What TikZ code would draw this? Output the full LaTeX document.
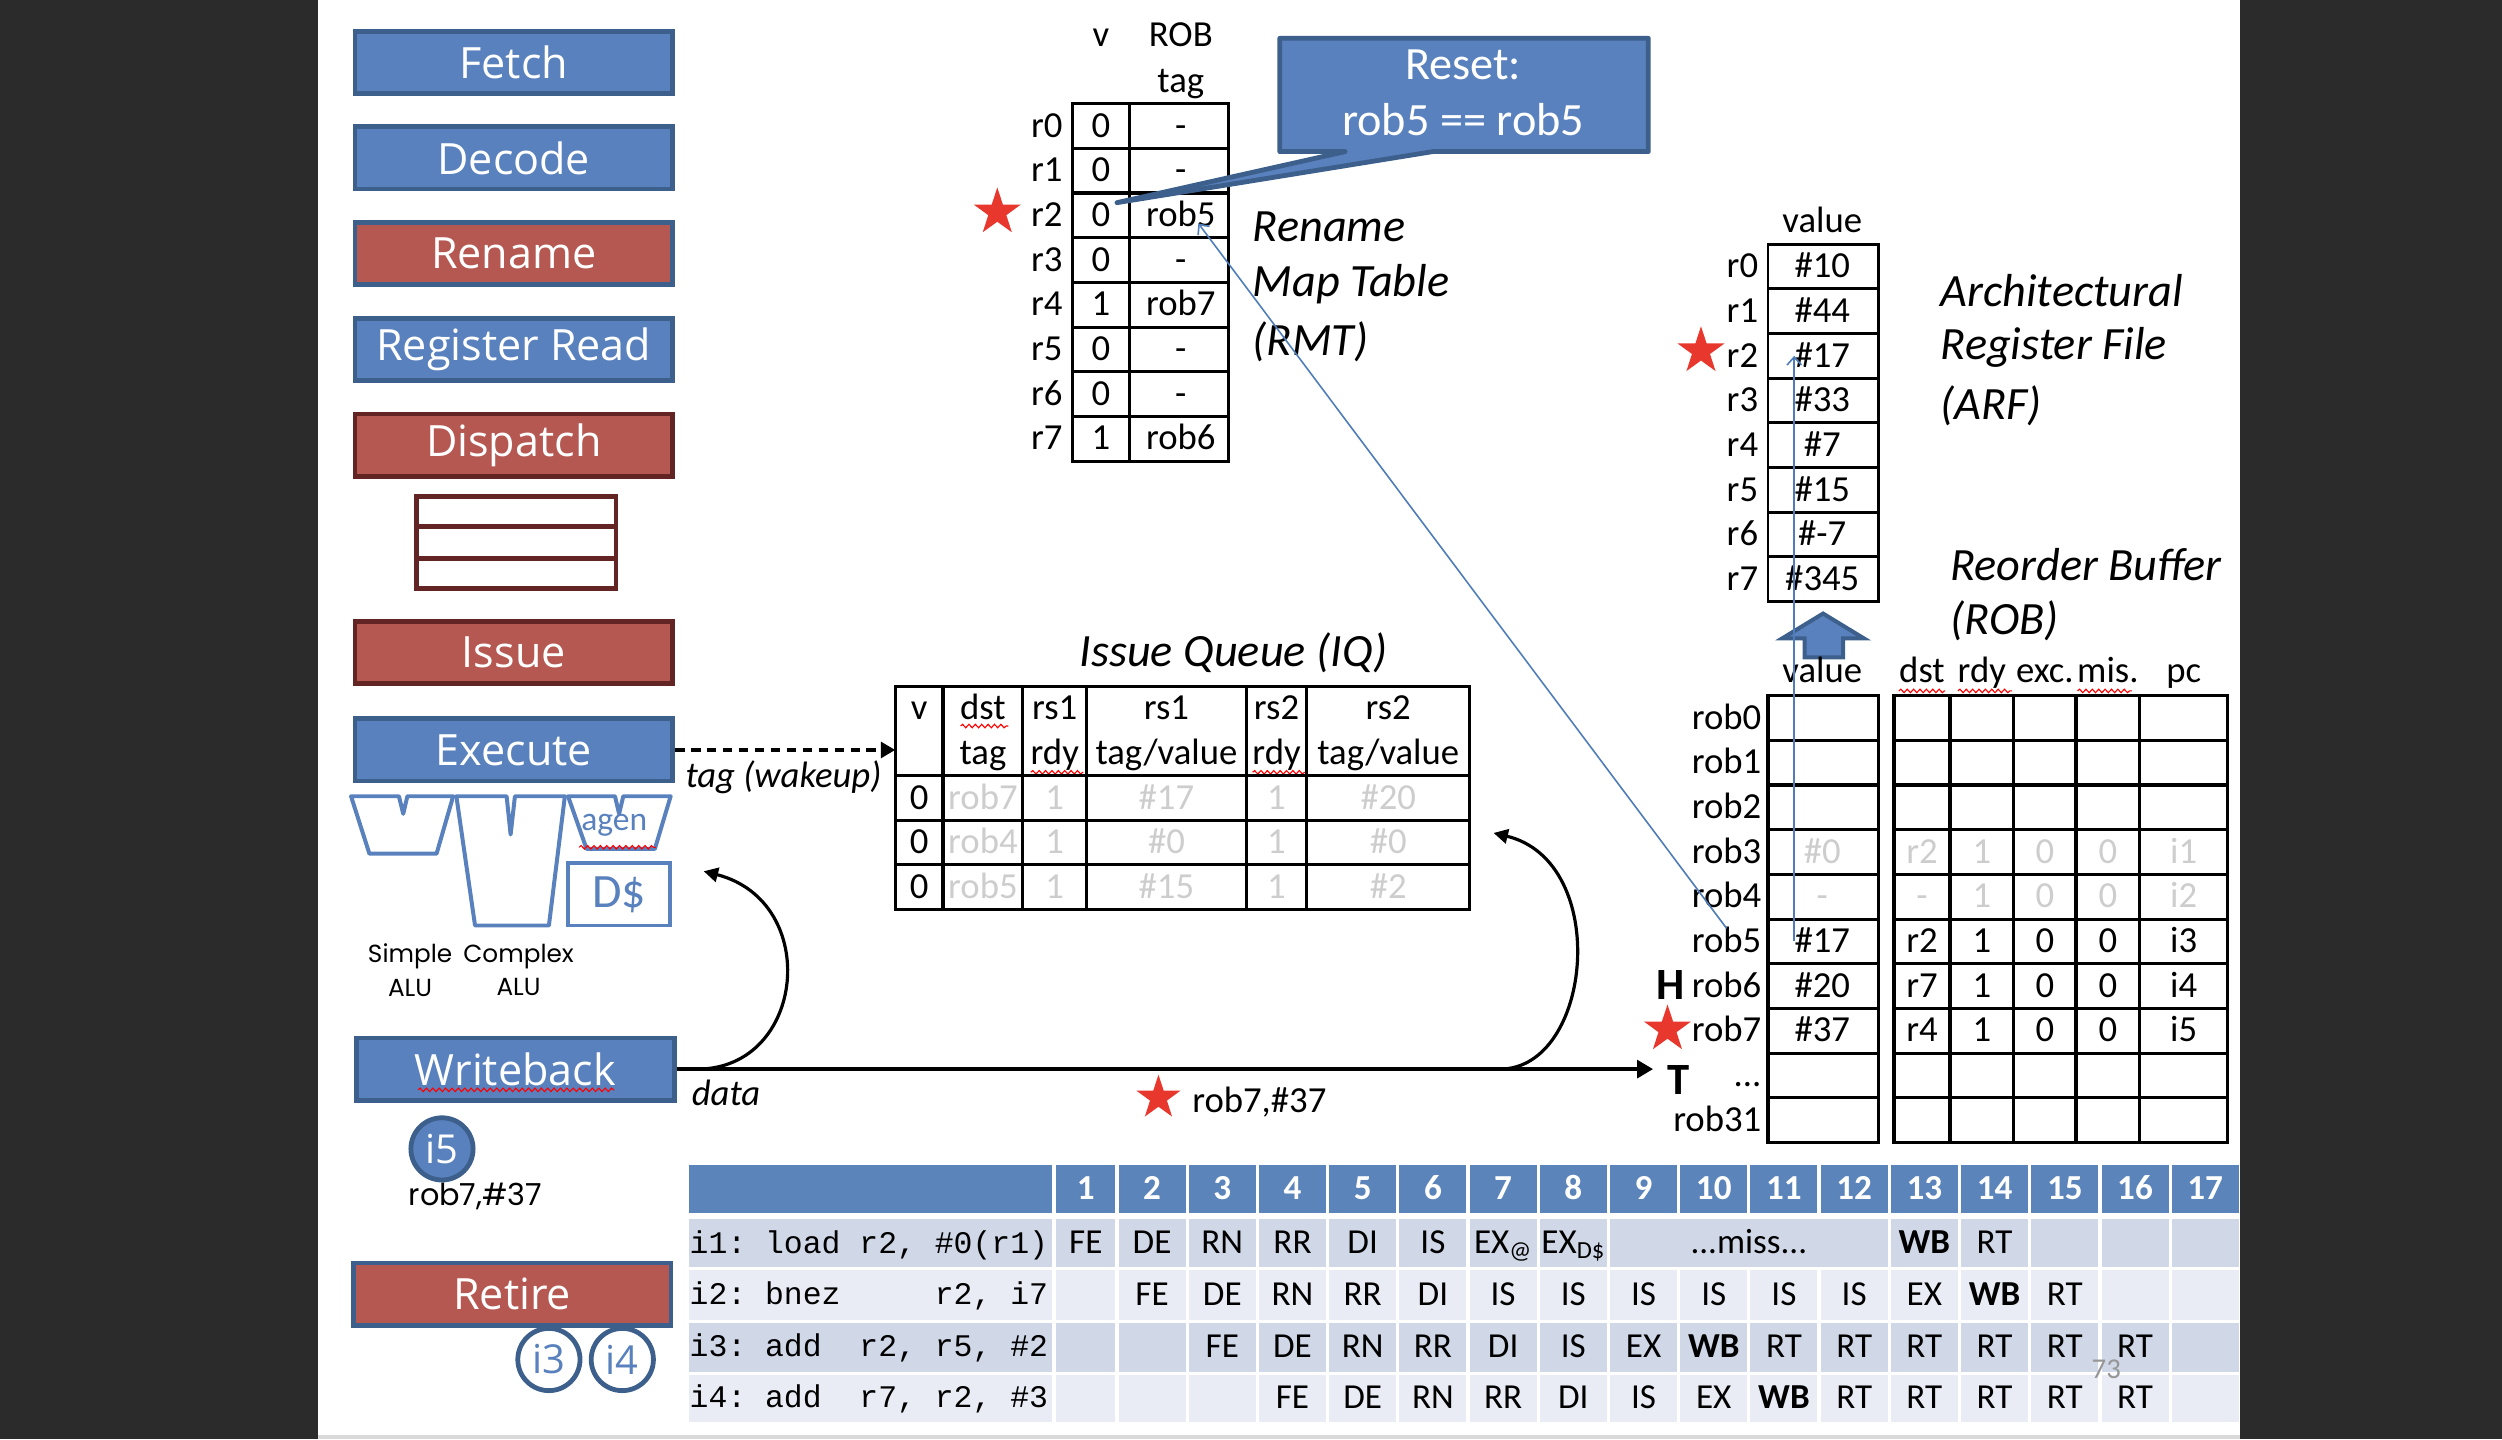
\documentclass[tikz,border=0pt]{standalone}
\usepackage{fontspec}
\setmainfont{Carlito}
\newfontfamily\stagefont{Open Sans}
\newfontfamily\gothfont{Poppins}
\newfontfamily\codefont{Liberation Mono}
\usetikzlibrary{positioning,calc,shapes.geometric,arrows.meta,decorations.pathmorphing}
\definecolor{stageblue}{RGB}{89,129,189}
\definecolor{stageedge}{RGB}{60,95,140}
\definecolor{stagered}{RGB}{181,88,82}
\definecolor{redegde}{RGB}{99,37,35}
\definecolor{hdrblue}{RGB}{91,132,187}
\definecolor{rowdark}{RGB}{208,216,232}
\definecolor{rowlight}{RGB}{233,236,244}
\definecolor{starred}{RGB}{232,55,44}
\definecolor{fadegray}{RGB}{205,205,205}
\definecolor{pagegray}{RGB}{150,150,150}
\definecolor{slidedark}{RGB}{43,43,43}
\definecolor{slidegray}{RGB}{217,217,217}
\definecolor{wirebl}{RGB}{79,125,185}
\newcommand{\fsz}[1]{\fontsize{#1}{#1}\selectfont}

\begin{document}
\begin{tikzpicture}[
  x=1pt, y=-1pt,
  stagebox/.style={draw=stageedge, line width=3pt, fill=stageblue,
    minimum width=199pt, minimum height=39pt, inner sep=0pt,
    text=white, font=\stagefont\fsz{27}},
  redstage/.style={stagebox, fill=stagered},
  darkstage/.style={stagebox, fill=stagered, draw=redegde},
  cell/.style={inner sep=0pt, font=\fsz{23}, text height=15pt, text depth=1pt},
  ghost/.style={cell, text=fadegray},
  rlabel/.style={cell, anchor=east},
  title/.style={inner sep=0pt, anchor=west, font=\itshape\fsz{29}},
  tblline/.style={draw=black, line width=2pt},
  redstar/.style={star, star points=5, star point ratio=2.6, fill=starred,
    inner sep=0pt, minimum size=31pt},
  wavy/.style={draw=red, line width=0.7pt, decorate,
    decoration={snake, amplitude=1.1pt, segment length=4pt}},
  wire/.style={draw=wirebl, line width=1pt, -{Straight Barb[length=5pt,width=9pt]}},
  alu/.style={draw=stageblue, line width=2.5pt, line join=round},
  tcell/.style={inner sep=0pt, font=\fsz{22}, text height=14pt, text depth=1pt},
  chip/.style={circle, draw=stageedge, line width=3pt, minimum size=39pt,
    inner sep=0pt, font=\stagefont\fsz{25}}
]
\useasboundingbox (0,0) rectangle (1568,902);
\fill[slidedark] (0,0) rectangle (199,902);
\fill[slidedark] (1404,0) rectangle (1568,902);
\fill[slidegray] (199,899) rectangle (1404,902);

\node[stagebox] (fetch) at (322,39) {Fetch};
\node[stagebox, below=18pt of fetch] (decode) {Decode};
\node[redstage, below=18pt of decode] (rename) {Rename};
\node[stagebox, below=18pt of rename] (regread) {Register Read};
\node[darkstage, below=18pt of regread] (dispatch) {Dispatch};
\node[darkstage, below=88pt of dispatch] (issue) {Issue};
\node[stagebox, below=19pt of issue] (execute) {Execute};
\node[stagebox] (writeback) at (323,670) {Writeback};
\node[redstage] (retire) at (321,811) {Retire};

\draw[draw=redegde, line width=3pt] (261,311) rectangle (386,369);
\draw[draw=redegde, line width=3pt] (261,330) -- (386,330) (261,350) -- (386,350);

\draw[alu] (220,499) -- (250,499) -- (252.7,510) -- (255.3,499) -- (284,499)
  -- (273.6,535) -- (231.5,535) -- cycle;
\draw[alu] (286,499) -- (317.5,499) -- (320,523) -- (322.7,499) -- (354,499)
  -- (344,580) -- (297.7,580) -- cycle;
\draw[alu] (356,499) -- (385.4,499) -- (388,510) -- (390.6,499) -- (420.3,499)
  -- (410.4,532) -- (367.6,532) -- cycle;
\node[text=stageblue, font=\fsz{21}, inner sep=0pt] (agen) at (385,517) {agen};
\draw[wavy] (363,531) -- (411,531);
\node[draw=stageblue, line width=2.5pt, minimum width=64pt, minimum height=39pt,
  inner sep=0pt, text=stageblue, font=\fsz{30}] (dcache) at (388,560.5) {D\$};
\node[font=\gothfont\fontsize{15.5}{21}\selectfont, align=center, inner sep=0pt]
  (simplealu) at (257,608) {Simple\\ALU};
\node[font=\gothfont\fontsize{15.5}{21}\selectfont, align=center, inner sep=0pt]
  (complexalu) at (325,608) {Complex\\ALU};

\draw[wavy] (262,683) -- (385,683);
\node[chip, fill=stageblue, text=white] (i5) at (277,720) {i5};
\node[font=\gothfont\fsz{19}, inner sep=0pt] (wbval) at (298,750) {rob7,\#37};
\node[chip, fill=white, text=stageblue] (i3) at (344,852) {i3};
\node[chip, fill=white, text=stageblue, right=4pt of i3] (i4) {i4};

\node[cell] (rmthv) at (690,22) {v};
\node[cell] (rmthrob) at (740,22) {ROB};
\node[cell] (rmthtag) at (740,51) {tag};
\foreach \v/\t [count=\k from 0] in {0/-,0/-,0/rob5,0/-,1/rob7,0/-,0/-,1/rob6} {
  \node[rlabel] (rmtl\k) at (666,{79+28*\k}) {r\k};
  \node[cell] (rmtv\k) at (690,{79+28*\k}) {\v};
  \node[cell] (rmtt\k) at (740,{79+28*\k}) {\t};
}
\draw[tblline] (672,65) rectangle (770,289);
\draw[tblline] (708,65) -- (708,289);
\foreach \k in {1,...,7} \draw[tblline] (672,{65+28*\k}) -- (770,{65+28*\k});
\node[redstar] (rmtstar) at (625,133) {};
\foreach \t [count=\k from 0] in {Rename,Map Table,(RMT)}
  \node[title] (rmtname\k) at (785,{142+36*\k}) {\t};

\draw[draw=stageedge, line width=3pt, fill=stageblue, line join=round]
  (802,24) -- (1033,24) -- (1033,95) -- (898,95) -- (700,127) -- (843,95)
  -- (802,95) -- cycle;
\node[text=white, font=\fontsize{29}{35}\selectfont, align=center, inner sep=0pt]
  (reset) at (917,58) {Reset:\\rob5 == rob5};

\node[cell] (arfhead) at (1142,139) {value};
\foreach \v [count=\k from 0] in {\#10,\#44,\#17,\#33,\#7,\#15,\#-7,\#345} {
  \node[rlabel] (arfl\k) at (1102,{167+28*\k}) {r\k};
  \node[cell] (arf\k) at (1142,{167+28*\k}) {\v};
}
\draw[tblline, line width=1.8pt] (1108,153) rectangle (1177,377);
\foreach \k in {1,...,7}
  \draw[tblline, line width=1.8pt] (1108,{153+28*\k}) -- (1177,{153+28*\k});
\node[redstar] (arfstar) at (1066,220) {};
\foreach \t [count=\k from 0] in {Architectural,Register File,(ARF)}
  \node[title] (arfname\k) at (1216,{182+36*\k}) {\t};
\node[title] (robname0) at (1222,354) {Reorder Buffer};
\node[title] (robname1) at (1222,389) {(ROB)};

\draw[draw=stageedge, line width=2.5pt, fill=stageblue, line join=miter]
  (1131,412) -- (1131,400) -- (1117,400) -- (1142.5,384.5) -- (1168,400)
  -- (1155,400) -- (1155,412) -- cycle;

\foreach \x/\t in {1142/value,1204.5/dst,1242/rdy,1281.5/exc.,1321/mis.,1368.5/pc}
  \node[cell] (robh\t) at (\x,421) {\t};
\draw[wavy] (1190,433) -- (1219,433);
\draw[wavy] (1227,433) -- (1261,433);
\draw[wavy] (1302,433) -- (1336,433);
\foreach \k in {0,...,7} \node[rlabel] (roblab\k) at (1104,{450+28*\k}) {rob\k};
\node[rlabel] (robdots) at (1104,674) {...};
\node[rlabel] (roblab31) at (1104,702) {rob31};
\foreach \r/\a/\b/\e/\s in {3/\#0/r2/i1/fadegray,4/-/-/i2/fadegray,
    5/\#17/r2/i3/black,6/\#20/r7/i4/black,7/\#37/r4/i5/black} {
  \node[cell, text=\s] (robv\r) at (1142,{450+28*\r}) {\a};
  \node[cell, text=\s] (robd\r) at (1204.5,{450+28*\r}) {\b};
  \node[cell, text=\s] (robr\r) at (1242,{450+28*\r}) {1};
  \node[cell, text=\s] (robx\r) at (1281.5,{450+28*\r}) {0};
  \node[cell, text=\s] (robm\r) at (1321,{450+28*\r}) {0};
  \node[cell, text=\s] (robp\r) at (1368.5,{450+28*\r}) {\e};
}
\draw[tblline] (1108,436) rectangle (1177,716);
\draw[tblline] (1187,436) rectangle (1396,716);
\foreach \x in {1222,1262,1301,1341} \draw[tblline] (\x,436) -- (\x,716);
\foreach \k in {1,...,9} {
  \draw[tblline] (1108,{436+28*\k}) -- (1177,{436+28*\k});
  \draw[tblline] (1187,{436+28*\k}) -- (1396,{436+28*\k});
}
\node[font=\bfseries\fsz{28}, inner sep=0pt] (headmark) at (1047,617) {H};
\node[redstar] (robstar) at (1045,645) {};
\node[font=\bfseries\fsz{28}, inner sep=0pt] (tailmark) at (1052,677) {T};

\node[title, anchor=center] (iqtitle) at (773,409) {Issue Queue (IQ)};
\foreach \x/\u/\l in {576/v/{},616/dst/tag,661/rs1/rdy,731/rs1/{tag/value},
    800/rs2/rdy,870/rs2/{tag/value}} {
  \node[cell] (iqhu\x) at (\x,444) {\u};
  \node[cell] (iqhl\x) at (\x,472) {\l};
}
\draw[wavy] (602,455) -- (632,455);
\draw[wavy] (646,484) -- (679,484);
\draw[wavy] (785,484) -- (818,484);
\foreach \t/\p/\q [count=\k] in {rob7/\#17/\#20,rob4/\#0/\#0,rob5/\#15/\#2} {
  \node[cell] (iqv\k) at (576,{472+28*\k}) {0};
  \node[ghost] (iqd\k) at (616,{472+28*\k}) {\t};
  \node[ghost] (iqa\k) at (661,{472+28*\k}) {1};
  \node[ghost] (iqb\k) at (731,{472+28*\k}) {\p};
  \node[ghost] (iqc\k) at (800,{472+28*\k}) {1};
  \node[ghost] (iqe\k) at (870,{472+28*\k}) {\q};
}
\draw[tblline] (561,430) rectangle (921,570);
\foreach \x in {591,641,681,781,819} \draw[tblline] (\x,430) -- (\x,570);
\foreach \y in {486,514,542} \draw[tblline] (561,\y) -- (921,\y);

\coordinate (iqin) at (561,470);
\draw[dash pattern=on 6pt off 4pt, line width=2pt,
  -{Triangle[length=9pt,width=10pt]}] (execute.east) -- (iqin);
\node[font=\itshape\fsz{23}, inner sep=0pt] (wakeup) at (491,487) {tag (wakeup)};

\coordinate (tailin) at (1036,670);
\draw[line width=2.5pt, -{Triangle[length=10pt,width=11pt]}] (writeback.east) -- (tailin);
\node[font=\itshape\fsz{23}, inner sep=0pt] (datalbl) at (455,685) {data};
\coordinate (splitl) at (437,670);
\coordinate (dcin) at (441,546);
\draw[line width=2pt, -{Triangle[length=9pt,width=9pt]}]
  (splitl) .. controls (505,670) and (515,565) .. (dcin);
\coordinate (splitr) at (940,670);
\coordinate (iqret) at (936,522);
\draw[line width=2pt, -{Triangle[length=9pt,width=9pt]}]
  (splitr) .. controls (998,670) and (1010,540) .. (iqret);
\node[redstar, minimum size=29pt] (datastar) at (726,688) {};
\node[cell, anchor=west] (dataval) at (747,690) {rob7,\#37};

\coordinate (rmthit) at (751,140);
\draw[wire] (roblab5.north) -- (rmthit);
\draw[wire] (robv5.west) -- (robv5.west |- arf2.center);

\fill[hdrblue] (432,730) rectangle (659,760);
\foreach \c in {1,...,17} {
  \pgfmathsetmacro\xl{(\c==1) ? 661 : 700+44*(\c-2)}
  \pgfmathsetmacro\xr{700+44*(\c-1)}
  \fill[hdrblue] (\xl+1,730) rectangle (\xr-1,760);
  \node[font=\bfseries\fsz{22}, text=white, inner sep=0pt, text height=14pt,
    text depth=1pt] (hd\c) at ({(\xl+\xr)/2},745) {\c};
}
\foreach \top/\bot/\shade [count=\r] in {764/794/rowdark,796/827/rowlight,
    829/860/rowdark,862/891/rowlight} {
  \fill[\shade] (432,\top) rectangle (659,\bot);
  \foreach \c in {1,...,17} {
    \pgfmathsetmacro\xl{(\c==1) ? 661 : 700+44*(\c-2)}
    \pgfmathsetmacro\xr{700+44*(\c-1)}
    \fill[\shade] (\xl+1,\top) rectangle (\xr-1,\bot);
  }
}
\fill[rowdark] (1009,764) rectangle (1183,794);
\foreach \t [count=\r] in {{i1: load r2, \#0(r1)},
    {i2: bnez\ \ \ \ \ r2, i7},
    {i3: add\ \ r2, r5, \#2},
    {i4: add\ \ r7, r2, \#3}}
  \node[anchor=west, inner sep=0pt, font=\codefont\fsz{19.7}\frenchspacing,
    text height=13pt, text depth=1pt] (ins\r) at (432,{747+32.3*\r}) {\t};
\foreach \c/\t in {1/FE,2/DE,3/RN,4/RR,5/DI,6/IS,7/EX\textsubscript{@},
    8/EX\textsubscript{D\$},13/\textbf{WB},14/RT} {
  \pgfmathsetmacro\xc{(\c==1) ? 680.5 : 678+44*(\c-1)}
  \node[tcell] (sa\c) at (\xc,779) {\t};
}
\node[tcell] (miss) at (1096,779) {...miss...};
\foreach \c/\t in {2/FE,3/DE,4/RN,5/RR,6/DI,7/IS,8/IS,9/IS,10/IS,11/IS,12/IS,
    13/EX,14/\textbf{WB},15/RT} {
  \pgfmathsetmacro\xc{678+44*(\c-1)}
  \node[tcell] (sb\c) at (\xc,811.5) {\t};
}
\foreach \c/\t in {3/FE,4/DE,5/RN,6/RR,7/DI,8/IS,9/EX,10/\textbf{WB},11/RT,
    12/RT,13/RT,14/RT,15/RT,16/RT} {
  \pgfmathsetmacro\xc{678+44*(\c-1)}
  \node[tcell] (sc\c) at (\xc,844.5) {\t};
}
\foreach \c/\t in {4/FE,5/DE,6/RN,7/RR,8/DI,9/IS,10/EX,11/\textbf{WB},12/RT,
    13/RT,14/RT,15/RT,16/RT} {
  \pgfmathsetmacro\xc{678+44*(\c-1)}
  \node[tcell] (sd\c) at (\xc,876.5) {\t};
}
\node[text=pagegray, font=\fsz{18}, inner sep=0pt] (pagenum) at (1320,858) {73};
\end{tikzpicture}
\end{document}
